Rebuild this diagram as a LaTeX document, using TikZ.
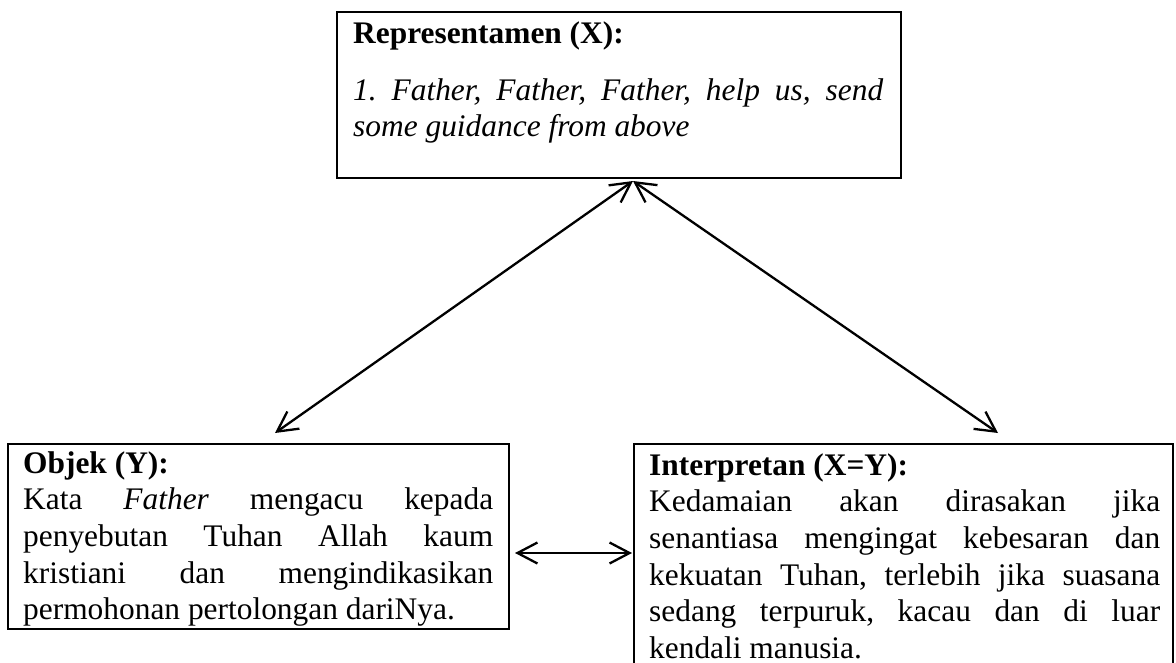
\documentclass[tikz,border=0pt]{standalone}
\usepackage{fontspec}
\setmainfont{Liberation Serif}
\usetikzlibrary{arrows.meta,calc}
\frenchspacing
\tikzset{
  frame/.style={draw=black, line width=2.4pt, inner sep=0pt, outer sep=0pt, anchor=north west},
  body/.style={inner sep=0pt, anchor=base west, align=justify,
    font=\fontsize{31.4}{36.7}\selectfont,
    execute at begin node={\frenchspacing\tolerance=10000\hyphenpenalty=10000\exhyphenpenalty=10000}},
  link/.style={line width=2.3pt, >={Straight Barb[length=20pt,width=21pt]}, <->}
}
\begin{document}
\begin{tikzpicture}[x=1pt,y=1pt]
\useasboundingbox (0,0) rectangle (1176,-662);
\clip (0,0) rectangle (1176,-662);

% frames
\node[frame, minimum width=564pt, minimum height=166pt] (rep) at (337,-12) {};
\node[frame, minimum width=501pt, minimum height=185pt] (obj) at (8,-444) {};
\node[frame, minimum width=539pt, minimum height=228pt] (int) at (634,-444) {};

% texts
\node[body, text width=530pt] (reptext) at (353,-43)
  {{\bfseries Representamen (X):}\par\vspace{20.3pt}
   \itshape 1. Father, Father, Father, help us, send\linebreak
   some guidance from above};
\node[body, text width=470pt] (objtext) at (23,-473)
  {{\bfseries Objek (Y):}\par
   Kata \textit{Father} mengacu kepada\linebreak
   penyebutan Tuhan Allah kaum\linebreak
   kristiani dan mengindikasikan\linebreak
   permohonan pertolongan dariNya.};
\node[body, text width=511pt] (inttext) at (649,-475)
  {{\bfseries Interpretan (X=Y):}\par
   Kedamaian akan dirasakan jika\linebreak
   senantiasa mengingat kebesaran dan\linebreak
   kekuatan Tuhan, terlebih jika suasana\linebreak
   sedang terpuruk, kacau dan di luar\linebreak
   kendali manusia.};

% connectors
\draw[link] ($(rep.south)+(14,-3)$) -- ($(obj.north)+(16.5,11)$);
\draw[link] ($(rep.south)+(14,-3)$) -- ($(int.north)+(94.5,11)$);
\draw[link] ($(obj.east)+(6,-16.5)$) -- ($(int.west)+(-2,5)$);
\end{tikzpicture}
\end{document}
